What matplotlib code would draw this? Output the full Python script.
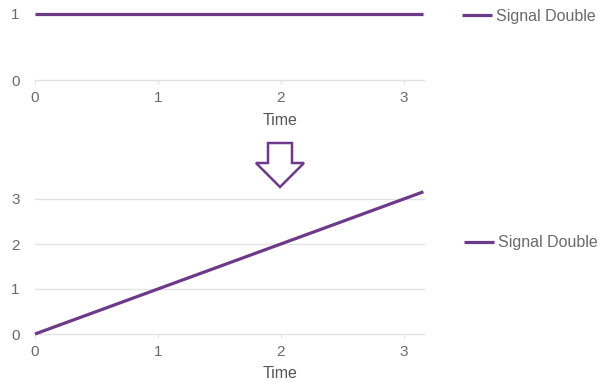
import matplotlib
matplotlib.use("Agg")
import matplotlib.pyplot as plt
from matplotlib.patches import Polygon

plt.rcParams['font.family'] = ['Liberation Sans', 'DejaVu Sans']

# Data
series_name = "Signal Double"
time_top = [0.0, 3.16]
signal_top = [1.0, 1.0]
time_bottom = [0.0, 3.16]
signal_bottom = [0.0, 3.16]
x_ticks = [0, 1, 2, 3]
y_ticks_top = [0, 1]
y_ticks_bottom = [0, 1, 2, 3]
x_label = "Time"

W, H = 608, 385
PURPLE = '#6c3a89'
GRID = '#e3e3e3'
TXT = '#6a6a6a'

fig = plt.figure(figsize=(W / 100, H / 100), dpi=100)

def fx(px):
    return px / W

def fy(py):
    return 1 - py / H

def make_ax(left, right, top, bottom):
    return fig.add_axes([fx(left), fy(bottom), fx(right) - fx(left), fy(top) - fy(bottom)])

ax1 = make_ax(35, 424, 12, 80)
ax2 = make_ax(35, 424, 190, 334)

def style(ax, yticks, ylim, label_y):
    ax.set_xlim(0, 3.165)
    ax.set_ylim(*ylim)
    ax.set_xticks(x_ticks)
    ax.set_yticks(yticks)
    for s in ax.spines.values():
        s.set_visible(False)
    ax.grid(axis='y', color=GRID, linewidth=1.0)
    for gl in ax.yaxis.get_gridlines():
        gl.set_clip_on(False)
    ax.set_axisbelow(True)
    ax.tick_params(axis='x', length=3, color=GRID, labelcolor=TXT, labelsize=11, pad=5)
    ax.tick_params(axis='y', length=0, labelcolor=TXT, labelsize=11, pad=11)
    ax.set_xlabel(x_label, fontsize=11.5, color='#555555')
    ax.xaxis.set_label_coords(0.63, label_y)
    ax.xaxis.label.set_va('top')

ax1.plot(time_top, signal_top, color=PURPLE, linewidth=2.3, solid_capstyle='butt',
         clip_on=False, label=series_name, zorder=3)
style(ax1, y_ticks_top, (0, 1.03), -0.48)

ax2.plot(time_bottom, signal_bottom, color=PURPLE, linewidth=2.3, solid_capstyle='butt',
         clip_on=False, label=series_name, zorder=3)
style(ax2, y_ticks_bottom, (0, 3.2), -0.22)

for ax, (lx, ly) in ((ax1, (462, 16)), (ax2, (464, 243))):
    ax.legend(loc='center left', bbox_to_anchor=(fx(lx), fy(ly)),
              bbox_transform=fig.transFigure, frameon=False, borderpad=0,
              borderaxespad=0, handlelength=1.9, handletextpad=0.25,
              fontsize=11.5, labelcolor=TXT)

arrow_px = [(268, 143), (292, 143), (292, 163), (304, 163), (280, 187), (256, 163), (268, 163)]
arrow = Polygon([(fx(x), fy(y)) for x, y in arrow_px], closed=True,
                transform=fig.transFigure, facecolor='white', edgecolor=PURPLE,
                linewidth=1.8, joinstyle='miter')
fig.patches.append(arrow)

fig.savefig('out.png', dpi=100, facecolor='white')
